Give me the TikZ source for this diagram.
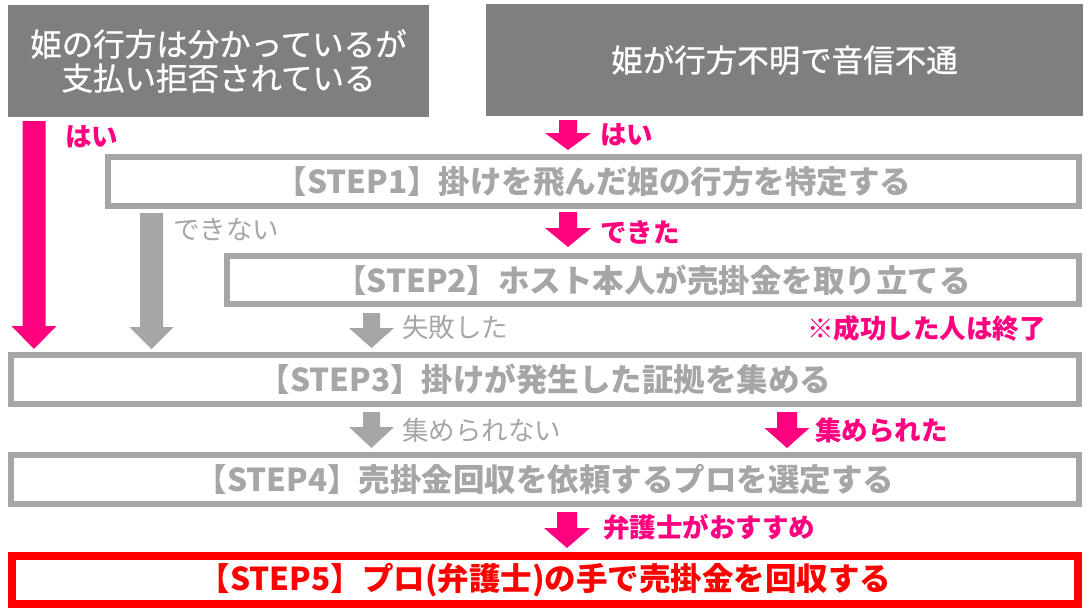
\documentclass[tikz,border=0pt]{standalone}
\usepackage{fontspec}
\setmainfont{Noto Sans CJK JP}
\newfontfamily\jp{Noto Sans CJK JP}
\newfontfamily\jpm[FakeBold=0.8]{Noto Sans CJK JP}
\definecolor{pinkc}{RGB}{255,0,127}
\definecolor{grayc}{RGB}{168,165,165}
\definecolor{darkbox}{RGB}{127,127,127}
\definecolor{redc}{RGB}{255,0,0}
% #1 colour, #2 x centre, #3 top, #4 head top, #5 tip, #6 shaft half width, #7 head half width
\newcommand\blockarr[7]{%
  \fill[#1] (#2-#6,#3) -- (#2+#6,#3) -- (#2+#6,#4) -- (#2+#7,#4) -- (#2,#5)
     -- (#2-#7,#4) -- (#2-#6,#4) -- cycle;}
\tikzset{
  topbox/.style={fill=darkbox, text=white, inner sep=0pt, outer sep=0pt, align=center,
     font=\jpm\fontsize{31.5}{34}\selectfont},
  stepbox/.style={draw=grayc, line width=6.5pt, fill=white, inner sep=0pt, outer sep=0pt,
     text=grayc, font=\jp\bfseries\fontsize{31.5}{34}\selectfont},
  finalbox/.style={draw=redc, line width=8pt, fill=white, inner sep=0pt, outer sep=0pt,
     text=redc, font=\jp\bfseries\fontsize{31.5}{34}\selectfont},
  pinklabel/.style={text=pinkc, inner sep=0pt, anchor=west, font=\jp\bfseries\fontsize{26.5}{30}\selectfont},
  graylabel/.style={text=grayc, inner sep=0pt, anchor=west, font=\jp\fontsize{26.5}{30}\selectfont},
}
\begin{document}
\begin{tikzpicture}[x=1pt,y=-1pt]
\fill[white] (0,0) rectangle (1089,610);
\useasboundingbox (0,0) rectangle (1089,610);

% top boxes
\node[topbox, minimum width=421, minimum height=112] (top1) at (218.5,61)
  {姫の行方は分かっているが\\支払い拒否されている};
\node[topbox, minimum width=597, minimum height=112] (top2) at (784.5,60)
  {姫が行方不明で音信不通};

% long arrows (drawn before boxes)
\blockarr{pinkc}{34}{121}{326}{349}{11.5}{22.5}
\blockarr{grayc}{151.5}{213}{327}{349}{11.5}{22}

% step boxes
\node[stepbox, minimum width=971, minimum height=49] (s1) at (593.5,181.5)
  {【STEP1】掛けを飛んだ姫の行方を特定する};
\node[stepbox, minimum width=852, minimum height=48] (s2) at (653,280)
  {【STEP2】ホスト本人が売掛金を取り立てる};
\node[stepbox, minimum width=1068, minimum height=49] (s3) at (545,379.5)
  {【STEP3】掛けが発生した証拠を集める};
\node[stepbox, minimum width=1068, minimum height=49] (s4) at (545,479.5)
  {【STEP4】売掛金回収を依頼するプロを選定する};
\node[finalbox, minimum width=1066, minimum height=48] (s5) at (545,580)
  {【STEP5】プロ(弁護士)の手で売掛金を回収する};

% short arrows
\blockarr{pinkc}{568}{120}{133}{150}{9}{23}
\blockarr{pinkc}{568}{212}{228}{247}{9}{23}
\blockarr{grayc}{371.5}{313}{328}{348}{8.5}{22.5}
\blockarr{grayc}{371.5}{412}{427}{448}{8.5}{22.5}
\blockarr{pinkc}{787}{412}{428}{448}{10}{22.5}
\blockarr{pinkc}{567}{512}{528}{548}{10}{23}

% labels
\node[pinklabel] (l1) at (65,137) {はい};
\node[pinklabel] (l2) at (600,135) {はい};
\node[graylabel] (l3) at (173,230) {できない};
\node[pinklabel] (l4) at (600,232) {できた};
\node[graylabel] (l5) at (402,327) {失敗した};
\node[pinklabel, anchor=east] (l6) at (1046,328) {※成功した人は終了};
\node[graylabel] (l7) at (402,430) {集められない};
\node[pinklabel] (l8) at (815,430) {集められた};
\node[pinklabel] (l9) at (603,527) {弁護士がおすすめ};
\end{tikzpicture}
\end{document}
